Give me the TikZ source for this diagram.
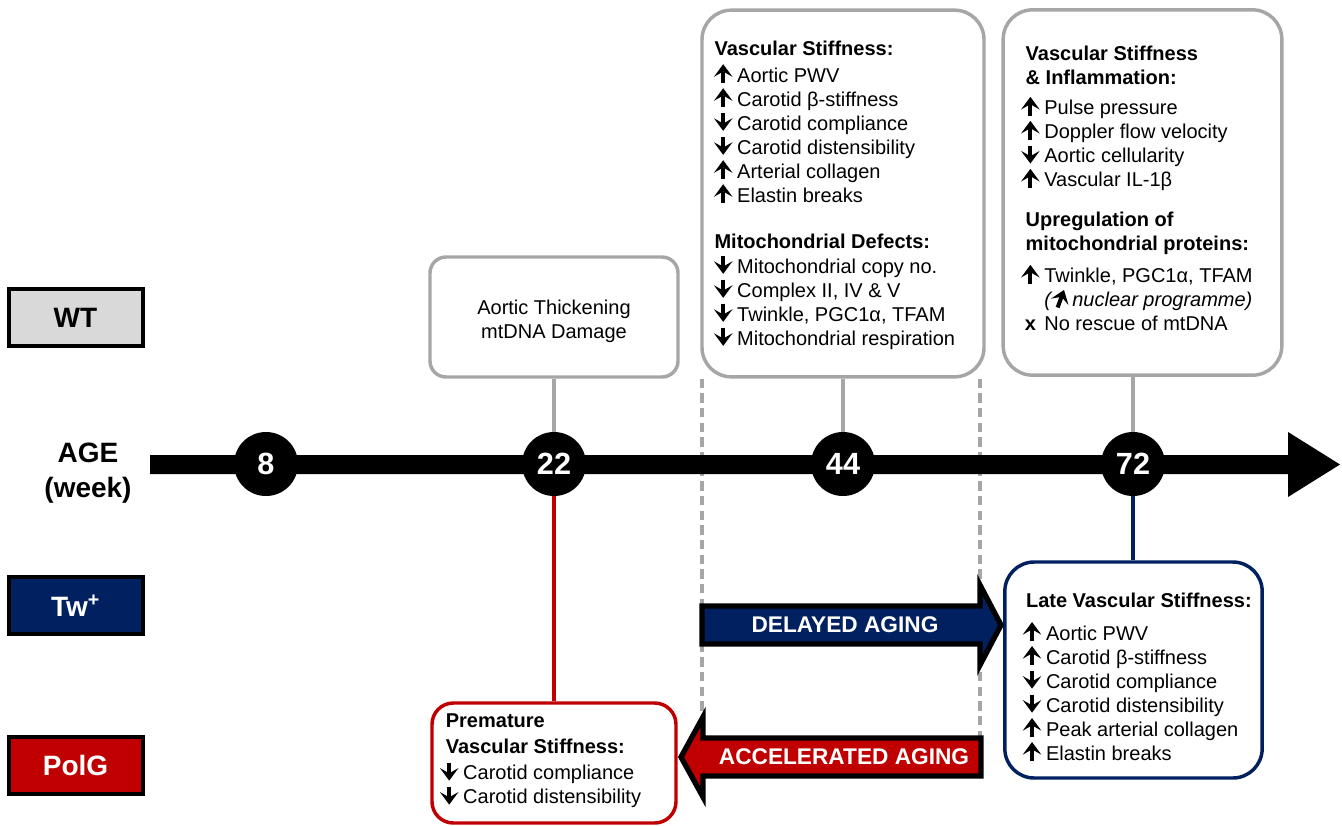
\documentclass[tikz,border=0pt]{standalone}
\usepackage{fontspec}
\setmainfont{Liberation Sans}
\usetikzlibrary{arrows.meta, positioning, calc}

\definecolor{navy}{HTML}{002060}
\definecolor{darkred}{HTML}{C00000}
\definecolor{framegray}{HTML}{A6A6A6}
\definecolor{wtgray}{HTML}{D9D9D9}

% little up / down arrows in the lists
\newcommand{\arup}[1][0]{\makebox[13pt][c]{\smash{\tikz[baseline=0pt]\draw[line width=3pt,rotate=#1,-{Stealth[length=9.5pt,width=14pt,inset=4pt,line width=0pt]}] (0pt,-0.5pt) -- (0pt,13.5pt);}}\hspace{4pt}}
\newcommand{\ardn}{\makebox[13pt][c]{\smash{\tikz[baseline=0pt]\draw[line width=3pt,-{Stealth[length=9.5pt,width=14pt,inset=4pt,line width=0pt]}] (0pt,13pt) -- (0pt,-0.5pt);}}\hspace{4pt}}
\newcommand{\nomark}{\makebox[13pt][c]{\textbf{x}}\hspace{4pt}}

\tikzset{
  gbox/.style={draw=framegray, line width=2.6pt, rounded corners=22pt, fill=white},
  group/.style={draw=black, line width=3pt, minimum width=100.5pt, minimum height=43pt,
    text=white, font=\fontsize{21}{25}\selectfont\bfseries},
  week/.style={circle, fill=black, minimum size=48pt, inner sep=0pt,
    text=white, font=\fontsize{23}{26}\selectfont\bfseries},
  boxtxt/.style={font=\fontsize{15}{18}\selectfont, align=left, inner sep=0pt, anchor=north west},
  link/.style={line width=3pt},
  dashline/.style={draw=framegray, line width=2.6pt, dash pattern=on 7pt off 4pt},
  bigarrow/.style={draw=black, line width=4pt, line join=miter, miter limit=10},
  arrowtxt/.style={text=white, font=\fontsize{17}{20}\selectfont\bfseries, inner sep=0pt}
}

\begin{document}
\begin{tikzpicture}[x=0.75pt, y=-0.75pt]
  \useasboundingbox (0,0) rectangle (1342,825);

  % groups and axis label
  \node[group, fill=wtgray, text=black] (wt) at (75.5,317.5) {WT};
  \node[group, fill=navy] (tw) at (75.5,605.5) {Tw\textsuperscript{+}};
  \node[group, fill=darkred] (polg) at (75.5,765.5) {PolG};
  \node[font=\fontsize{21}{26}\selectfont\bfseries, align=center] (age) at (88,473) {AGE\\(week)};

  % boxes above the timeline
  \node[gbox, rounded corners=12pt, minimum width=186pt, minimum height=90pt] (b22) at (554,317) {};
  \node[font=\fontsize{15}{18}\selectfont, align=center] (t22) at ([yshift=-3pt]b22.center) {Aortic Thickening\\mtDNA Damage};

  \node[gbox, minimum width=211.5pt, minimum height=275pt] (b44) at (843,193.5) {};
  \node[boxtxt, below right=24pt and 10.5pt of b44.north west] (t44) {%
    \textbf{Vascular Stiffness:}\\[2.25pt]
    \arup Aortic PWV\\
    \arup Carotid β-stiffness\\
    \ardn Carotid compliance\\
    \ardn Carotid distensibility\\
    \arup Arterial collagen\\
    \arup Elastin breaks\\[16.5pt]
    \textbf{Mitochondrial Defects:}\\[0.75pt]
    \ardn Mitochondrial copy no.\\
    \ardn Complex II, IV \& V\\
    \ardn Twinkle, PGC1α, TFAM\\
    \ardn Mitochondrial respiration};

  \node[gbox, minimum width=209pt, minimum height=274pt] (b72) at (1142.5,192.5) {};
  \node[boxtxt, below right=28.5pt and 15pt of b72.north west] (t72) {%
    \hspace*{3pt}\textbf{Vascular Stiffness}\\
    \hspace*{3pt}\textbf{\& Inflammation:}\\[4.5pt]
    \arup Pulse pressure\\
    \arup Doppler flow velocity\\
    \ardn Aortic cellularity\\
    \arup Vascular IL-1β\\[12pt]
    \hspace*{3pt}\textbf{Upregulation of}\\
    \hspace*{3pt}\textbf{mitochondrial proteins:}\\[6pt]
    \arup Twinkle, PGC1α, TFAM\\
    \hspace*{17pt}\textit{(\arup[-20]\hspace{-1pt}nuclear programme)}\\
    \nomark No rescue of mtDNA};

  % boxes below the timeline
  \node[gbox, draw=navy, minimum width=193pt, minimum height=162pt] (btw) at (1133.5,670) {};
  \node[boxtxt, below right=24pt and 15pt of btw.north west] (ttw) {%
    \hspace*{2pt}\textbf{Late Vascular Stiffness:}\\[6.75pt]
    \arup Aortic PWV\\
    \arup Carotid β-stiffness\\
    \ardn Carotid compliance\\
    \ardn Carotid distensibility\\
    \arup Peak arterial collagen\\
    \arup Elastin breaks};

  \node[gbox, draw=darkred, rounded corners=16pt, minimum width=183pt, minimum height=90pt] (bpol) at (554,763) {};
  \node[boxtxt, below right=9.5pt and 7.5pt of bpol.north west] (tpol) {%
    \hspace*{4pt}\textbf{Premature}\\[1.5pt]
    \hspace*{4pt}\textbf{Vascular Stiffness:}\\[1.5pt]
    \ardn Carotid compliance\\
    \ardn Carotid distensibility};

  % dashed guides
  \coordinate (dl) at (702,715);
  \coordinate (dr) at (980,738);
  \draw[dashline] (b44.south west -| dl) -- (dl);
  \draw[dashline] (b44.south west -| dr) -- (dr);

  % timeline
  \fill[black] (150,455) -- (1288,455) -- (1288,432) -- (1340,464.5) -- (1288,497)
    -- (1288,474) -- (150,474) -- cycle;
  \node[week] (w8) at (266,464) {8};
  \node[week] (w22) at (554,464) {22};
  \node[week] (w44) at (843,464) {44};
  \node[week] (w72) at (1133,464) {72};

  % connectors
  \draw[link, framegray] (b22.south) -- (w22.north);
  \draw[link, framegray] (b44.south) -- (w44.north);
  \draw[link, framegray] (w72 |- b72.south) -- (w72.north);
  \draw[link, darkred] (w22.south) -- (bpol.north);
  \draw[link, navy, line width=2.6pt] (w72.south) -- (w72 |- btw.north);

  % delayed / accelerated
  \draw[bigarrow, fill=navy] (702,606) -- (980,606) -- (980,585) -- (1001,625) -- (980,665)
    -- (980,644) -- (702,644) -- cycle;
  \node[arrowtxt] (delay) at (845,625) {DELAYED AGING};
  \draw[bigarrow, fill=darkred] (981,738) -- (703,738) -- (703,717) -- (681,757) -- (703,797)
    -- (703,776) -- (981,776) -- cycle;
  \node[arrowtxt] (accel) at (844,757) {ACCELERATED AGING};
\end{tikzpicture}
\end{document}
